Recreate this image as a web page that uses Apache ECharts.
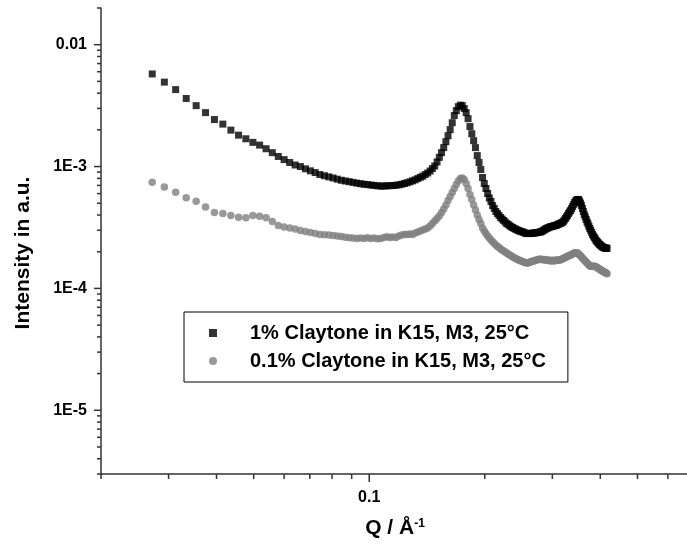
<!DOCTYPE html>
<html>
<head>
<meta charset="utf-8">
<script src="https://cdn.jsdelivr.net/npm/echarts@6.0.0/dist/echarts.min.js"></script>
<style>
  html, body { margin: 0; padding: 0; background: #fff; }
  #chart { width: 687px; height: 556px; }
</style>
</head>
<body>
<div id="chart"></div>
<script>
// Q in 1/A
var qValues = [
  0.0272, 0.02925, 0.0313, 0.03335, 0.0354, 0.03745, 0.0395, 0.04155, 0.0436, 0.04565,
  0.0477, 0.04975, 0.0518, 0.05385, 0.0559, 0.05795, 0.06, 0.06205, 0.0641, 0.06615,
  0.0682, 0.07025, 0.0723, 0.07435, 0.0764, 0.07845, 0.0805, 0.08255, 0.0846, 0.08665,
  0.0887, 0.09075, 0.0928, 0.09485, 0.0969, 0.09895, 0.101, 0.10305, 0.1051, 0.10715,
  0.1092, 0.11125, 0.1133, 0.11535, 0.1174, 0.11945, 0.1215, 0.12355, 0.1256, 0.12765,
  0.1297, 0.13175, 0.1338, 0.13585, 0.1379, 0.13995, 0.142, 0.14405, 0.1461, 0.14815,
  0.1502, 0.15225, 0.1543, 0.15635, 0.1584, 0.16045, 0.1625, 0.16455, 0.1666, 0.16865,
  0.1707, 0.17275, 0.1748, 0.17685, 0.1789, 0.18095, 0.183, 0.18505, 0.1871, 0.18915,
  0.1912, 0.19325, 0.1953, 0.19735, 0.1994, 0.20145, 0.2035, 0.20555, 0.2076, 0.20965,
  0.2117, 0.21375, 0.2158, 0.21785, 0.2199, 0.22195, 0.224, 0.22605, 0.2281, 0.23015,
  0.2322, 0.23425, 0.2363, 0.23835, 0.2404, 0.24245, 0.2445, 0.24655, 0.2486, 0.25065,
  0.2527, 0.25475, 0.2568, 0.25885, 0.2609, 0.26295, 0.265, 0.26705, 0.2691, 0.27115,
  0.2732, 0.27525, 0.2773, 0.27935, 0.2814, 0.28345, 0.2855, 0.28755, 0.2896, 0.29165,
  0.2937, 0.29575, 0.2978, 0.29985, 0.3019, 0.30395, 0.306, 0.30805, 0.3101, 0.31215,
  0.3142, 0.31625, 0.3183, 0.32035, 0.3224, 0.32445, 0.3265, 0.32855, 0.3306, 0.33265,
  0.3347, 0.33675, 0.3388, 0.34085, 0.3429, 0.34495, 0.347, 0.34905, 0.3511, 0.35315,
  0.3552, 0.35725, 0.3593, 0.36135, 0.3634, 0.36545, 0.3675, 0.36955, 0.3716, 0.37365,
  0.3757, 0.37775, 0.3798, 0.38185, 0.3839, 0.38595, 0.388, 0.39005, 0.3921, 0.39415,
  0.3962, 0.39825, 0.4003, 0.40235, 0.4044, 0.40645, 0.4085, 0.41055, 0.4126, 0.41465,
  0.4167
];

// 1% Claytone in K15
var clay1 = [
  5.75e-3, 4.93e-3, 4.28e-3, 3.62e-3, 3.16e-3, 2.77e-3, 2.43e-3, 2.23e-3, 1.99e-3, 1.81e-3,
  1.69e-3, 1.58e-3, 1.50e-3, 1.40e-3, 1.30e-3, 1.21e-3, 1.14e-3, 1.08e-3, 1.03e-3, 1.00e-3,
  9.58e-4, 9.22e-4, 8.93e-4, 8.60e-4, 8.41e-4, 8.23e-4, 8.06e-4, 7.88e-4, 7.72e-4, 7.61e-4,
  7.51e-4, 7.41e-4, 7.31e-4, 7.23e-4, 7.16e-4, 7.11e-4, 7.05e-4, 7.00e-4, 6.95e-4, 6.91e-4,
  6.92e-4, 6.95e-4, 6.96e-4, 6.99e-4, 7.02e-4, 7.08e-4, 7.16e-4, 7.26e-4, 7.37e-4, 7.49e-4,
  7.63e-4, 7.78e-4, 7.97e-4, 8.16e-4, 8.34e-4, 8.60e-4, 8.85e-4, 9.19e-4, 9.63e-4, 1.01e-3,
  1.09e-3, 1.19e-3, 1.30e-3, 1.43e-3, 1.60e-3, 1.79e-3, 2.01e-3, 2.29e-3, 2.62e-3, 2.88e-3,
  3.10e-3, 3.19e-3, 3.16e-3, 2.99e-3, 2.77e-3, 2.47e-3, 2.13e-3, 1.86e-3, 1.63e-3, 1.43e-3,
  1.23e-3, 1.08e-3, 9.45e-4, 8.13e-4, 7.26e-4, 6.60e-4, 6.01e-4, 5.52e-4, 5.17e-4, 4.79e-4,
  4.53e-4, 4.28e-4, 4.12e-4, 3.97e-4, 3.82e-4, 3.71e-4, 3.61e-4, 3.51e-4, 3.41e-4, 3.35e-4,
  3.27e-4, 3.21e-4, 3.16e-4, 3.11e-4, 3.07e-4, 3.03e-4, 2.99e-4, 2.96e-4, 2.93e-4, 2.91e-4,
  2.88e-4, 2.85e-4, 2.82e-4, 2.82e-4, 2.82e-4, 2.82e-4, 2.83e-4, 2.84e-4, 2.85e-4, 2.86e-4,
  2.87e-4, 2.88e-4, 2.89e-4, 2.91e-4, 2.93e-4, 2.97e-4, 3.02e-4, 3.06e-4, 3.10e-4, 3.13e-4,
  3.16e-4, 3.19e-4, 3.22e-4, 3.22e-4, 3.25e-4, 3.28e-4, 3.28e-4, 3.31e-4, 3.35e-4, 3.38e-4,
  3.41e-4, 3.44e-4, 3.48e-4, 3.54e-4, 3.64e-4, 3.75e-4, 3.86e-4, 3.97e-4, 4.12e-4, 4.24e-4,
  4.36e-4, 4.53e-4, 4.70e-4, 4.88e-4, 5.07e-4, 5.22e-4, 5.32e-4, 5.37e-4, 5.37e-4, 5.22e-4,
  5.02e-4, 4.79e-4, 4.53e-4, 4.28e-4, 4.04e-4, 3.86e-4, 3.68e-4, 3.51e-4, 3.38e-4, 3.22e-4,
  3.10e-4, 2.99e-4, 2.88e-4, 2.77e-4, 2.69e-4, 2.62e-4, 2.55e-4, 2.47e-4, 2.43e-4, 2.38e-4,
  2.34e-4, 2.29e-4, 2.27e-4, 2.23e-4, 2.21e-4, 2.17e-4, 2.17e-4, 2.15e-4, 2.13e-4, 2.15e-4,
  2.13e-4
];

// 0.1% Claytone in K15
var clay01 = [
  7.44e-4, 6.79e-4, 6.16e-4, 5.54e-4, 5.20e-4, 4.66e-4, 4.20e-4, 4.12e-4, 3.97e-4, 3.84e-4,
  3.80e-4, 3.97e-4, 3.91e-4, 3.80e-4, 3.54e-4, 3.28e-4, 3.19e-4, 3.13e-4, 3.07e-4, 2.99e-4,
  2.93e-4, 2.88e-4, 2.82e-4, 2.77e-4, 2.76e-4, 2.74e-4, 2.72e-4, 2.69e-4, 2.67e-4, 2.63e-4,
  2.61e-4, 2.59e-4, 2.57e-4, 2.59e-4, 2.57e-4, 2.60e-4, 2.57e-4, 2.59e-4, 2.55e-4, 2.57e-4,
  2.62e-4, 2.65e-4, 2.62e-4, 2.64e-4, 2.62e-4, 2.69e-4, 2.75e-4, 2.77e-4, 2.77e-4, 2.80e-4,
  2.77e-4, 2.85e-4, 2.91e-4, 2.96e-4, 3.02e-4, 3.07e-4, 3.13e-4, 3.25e-4, 3.41e-4, 3.57e-4,
  3.75e-4, 3.93e-4, 4.20e-4, 4.48e-4, 4.83e-4, 5.26e-4, 5.68e-4, 6.12e-4, 6.60e-4, 7.12e-4,
  7.61e-4, 7.97e-4, 8.05e-4, 7.82e-4, 7.26e-4, 6.60e-4, 5.90e-4, 5.37e-4, 4.83e-4, 4.40e-4,
  4.00e-4, 3.68e-4, 3.41e-4, 3.13e-4, 2.96e-4, 2.82e-4, 2.69e-4, 2.59e-4, 2.50e-4, 2.41e-4,
  2.34e-4, 2.27e-4, 2.21e-4, 2.17e-4, 2.11e-4, 2.07e-4, 2.03e-4, 1.99e-4, 1.95e-4, 1.92e-4,
  1.88e-4, 1.85e-4, 1.81e-4, 1.79e-4, 1.76e-4, 1.74e-4, 1.71e-4, 1.70e-4, 1.68e-4, 1.66e-4,
  1.65e-4, 1.63e-4, 1.62e-4, 1.62e-4, 1.63e-4, 1.65e-4, 1.66e-4, 1.68e-4, 1.68e-4, 1.70e-4,
  1.71e-4, 1.73e-4, 1.73e-4, 1.74e-4, 1.73e-4, 1.73e-4, 1.71e-4, 1.73e-4, 1.70e-4, 1.71e-4,
  1.70e-4, 1.68e-4, 1.70e-4, 1.68e-4, 1.70e-4, 1.68e-4, 1.70e-4, 1.71e-4, 1.70e-4, 1.71e-4,
  1.71e-4, 1.73e-4, 1.74e-4, 1.76e-4, 1.78e-4, 1.80e-4, 1.81e-4, 1.83e-4, 1.85e-4, 1.86e-4,
  1.88e-4, 1.90e-4, 1.92e-4, 1.94e-4, 1.95e-4, 1.96e-4, 1.96e-4, 1.95e-4, 1.92e-4, 1.88e-4,
  1.85e-4, 1.81e-4, 1.78e-4, 1.74e-4, 1.71e-4, 1.68e-4, 1.65e-4, 1.62e-4, 1.59e-4, 1.56e-4,
  1.53e-4, 1.52e-4, 1.52e-4, 1.52e-4, 1.52e-4, 1.52e-4, 1.51e-4, 1.50e-4, 1.49e-4, 1.47e-4,
  1.45e-4, 1.44e-4, 1.42e-4, 1.41e-4, 1.39e-4, 1.38e-4, 1.37e-4, 1.35e-4, 1.35e-4, 1.33e-4,
  1.32e-4
];

var seriesNames = ['1% Claytone in K15, M3, 25°C', '0.1% Claytone in K15, M3, 25°C'];

// axis ranges and tick values
var xMin = 0.02, xMax = 1;
var yMin = 3e-6, yMax = 0.02;
var xMajorTicks = [0.1, 1];
var xMinorTicks = [0.02, 0.03, 0.04, 0.05, 0.06, 0.07, 0.08, 0.09, 0.2, 0.3, 0.4, 0.5, 0.6, 0.7, 0.8, 0.9];
var yMajorTicks = [1e-5, 1e-4, 1e-3, 1e-2];
var yMinorTicks = [
  3e-6, 4e-6, 5e-6, 6e-6, 7e-6, 8e-6, 9e-6,
  2e-5, 3e-5, 4e-5, 5e-5, 6e-5, 7e-5, 8e-5, 9e-5,
  2e-4, 3e-4, 4e-4, 5e-4, 6e-4, 7e-4, 8e-4, 9e-4,
  2e-3, 3e-3, 4e-3, 5e-3, 6e-3, 7e-3, 8e-3, 9e-3, 0.02
];

var FONT = '"Liberation Sans", Arial, sans-serif';
var AXIS_COLOR = '#333';

function pairs (xs, ys) {
  var out = [];
  for (var i = 0; i < xs.length; i++) out.push([xs[i], ys[i]]);
  return out;
}

function isDecade (v) {
  var l = Math.log10(v);
  return Math.abs(l - Math.round(l)) < 1e-6;
}

// ticks drawn through the axis scales (log minor ticks at 2..9)
function tickSeries (values, dir, len) {
  var data = values.map(function (v) { return dir === 'x' ? [v, yMin] : [xMin, v]; });
  return {
    type: 'custom',
    silent: true,
    clip: false,
    z: 5,
    data: data,
    renderItem: function (params, api) {
      var p = api.coord([api.value(0), api.value(1)]);
      var shape = dir === 'x'
        ? { x1: p[0], y1: p[1], x2: p[0], y2: p[1] + len }
        : { x1: p[0] - len, y1: p[1], x2: p[0], y2: p[1] };
      return { type: 'line', shape: shape, style: { stroke: AXIS_COLOR, lineWidth: 1.5 } };
    }
  };
}

var chart = echarts.init(document.getElementById('chart'));

var option = {
  backgroundColor: '#fff',
  animation: false,
  grid: {
    left: 101,
    top: 8,
    right: -66,
    bottom: 82,
    containLabel: false,
    outerBoundsMode: 'none'
  },
  legend: {
    data: seriesNames,
    orient: 'vertical',
    left: 184,
    top: 312,
    padding: [11, 22, 11, 25],
    itemGap: 8,
    itemWidth: 8,
    itemHeight: 8,
    borderColor: '#000',
    borderWidth: 1,
    borderRadius: 0,
    textStyle: {
      fontFamily: FONT,
      fontSize: 20,
      fontWeight: 'bold',
      color: '#000',
      padding: [0, 0, 0, 28]
    }
  },
  xAxis: {
    type: 'log',
    logBase: 10,
    min: xMin,
    max: xMax,
    name: '{b|Q / Å}{s|-1}',
    nameLocation: 'middle',
    nameGap: 44,
    nameTextStyle: {
      padding: [0, 64, 0, 0],
      rich: {
        b: { fontFamily: FONT, fontSize: 21, fontWeight: 'bold', color: '#000' },
        s: { fontFamily: FONT, fontSize: 12, fontWeight: 'bold', color: '#000', verticalAlign: 'top', padding: [0, 0, 9, 0] }
      }
    },
    axisLine: { lineStyle: { color: AXIS_COLOR, width: 1.5 } },
    axisTick: { show: false },
    splitLine: { show: false },
    axisLabel: {
      margin: 16,
      fontFamily: FONT,
      fontSize: 16,
      fontWeight: 'bold',
      color: '#000',
      formatter: function (v) { return (isDecade(v) && Math.round(Math.log10(v)) === -1) ? '0.1' : ''; }
    }
  },
  yAxis: {
    type: 'log',
    logBase: 10,
    min: yMin,
    max: yMax,
    name: 'Intensity in a.u.',
    nameLocation: 'middle',
    nameGap: 67,
    nameTextStyle: {
      fontFamily: FONT,
      fontSize: 21,
      fontWeight: 'bold',
      color: '#000',
      padding: [0, 24, 0, 0]
    },
    axisLine: { lineStyle: { color: AXIS_COLOR, width: 1.5 } },
    axisTick: { show: false },
    splitLine: { show: false },
    axisLabel: {
      margin: 14,
      fontFamily: FONT,
      fontSize: 16,
      fontWeight: 'bold',
      color: '#000',
      formatter: function (v) {
        if (!isDecade(v)) return '';
        var e = Math.round(Math.log10(v));
        return e === -2 ? '0.01' : '1E' + e;
      }
    }
  },
  series: [
    {
      name: seriesNames[1],
      type: 'scatter',
      symbol: 'circle',
      symbolSize: 7.5,
      itemStyle: { color: '#808080' },
      data: pairs(qValues, clay01)
    },
    {
      name: seriesNames[0],
      type: 'scatter',
      symbol: 'rect',
      symbolSize: 7,
      itemStyle: { color: '#000' },
      data: pairs(qValues, clay1)
    },
    tickSeries(xMajorTicks, 'x', 8),
    tickSeries(xMinorTicks, 'x', 5),
    tickSeries(yMajorTicks, 'y', 7),
    tickSeries(yMinorTicks, 'y', 4)
  ]
};

option && chart.setOption(option);
</script>
</body>
</html>
